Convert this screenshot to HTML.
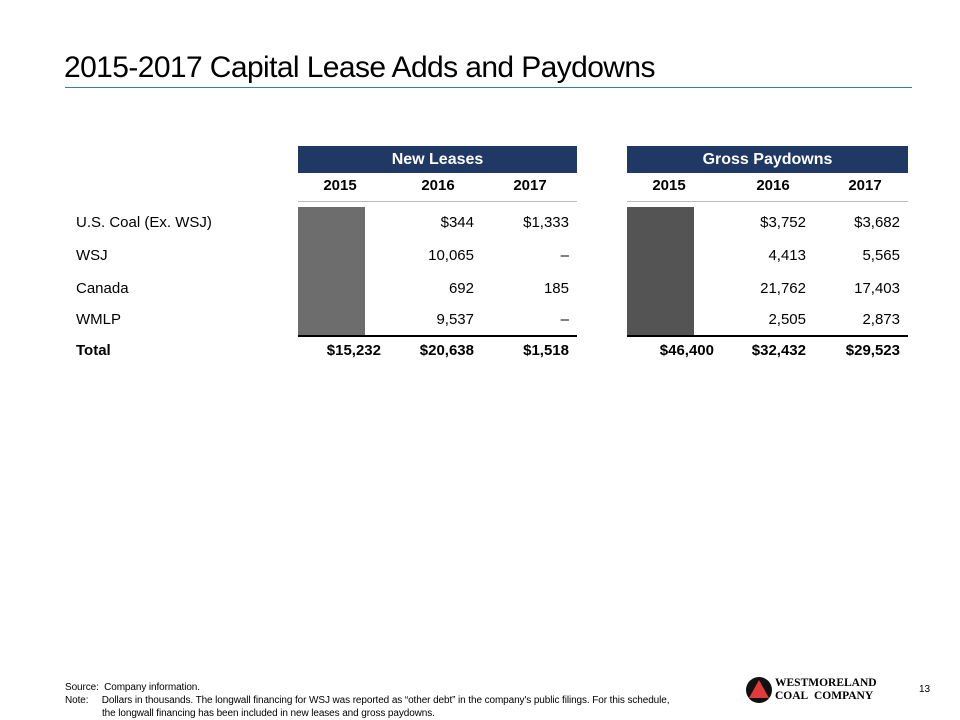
<!DOCTYPE html>
<html><head><meta charset="utf-8"><style>
body{margin:0;width:960px;height:720px;background:#fff;position:relative;font-family:"Liberation Sans",sans-serif;color:#000;overflow:hidden}
.a{position:absolute;white-space:nowrap}
.hdr{position:absolute;background:#203864;color:#fff;font-weight:bold;font-size:16px;text-align:center;line-height:27px;height:27px}
.yr{font-weight:bold;font-size:15px}
.v{font-size:15px}
.b{font-weight:bold}
</style></head><body>
<div class="a" style="left:64px;top:51px;font-size:30px;letter-spacing:-0.6px">2015-2017 Capital Lease Adds and Paydowns</div>
<div class="a" style="left:65px;top:87px;width:847px;height:1px;background:#3f76b8"></div>

<div class="hdr" style="left:298px;top:146px;width:279px">New Leases</div>
<div class="hdr" style="left:627px;top:146px;width:281px">Gross Paydowns</div>

<div class="a" style="left:298px;top:201px;width:279px;height:1px;background:#bbb"></div>
<div class="a" style="left:627px;top:201px;width:281px;height:1px;background:#bbb"></div>
<div class="a" style="left:298px;top:207px;width:67px;height:128px;background:#6d6d6d"></div>
<div class="a" style="left:627px;top:207px;width:67px;height:128px;background:#545454"></div>
<div class="a" style="left:298px;top:335px;width:279px;height:2px;background:#000"></div>
<div class="a" style="left:627px;top:335px;width:281px;height:2px;background:#000"></div>

<div id="tbl"></div>

<div class="a" style="left:65px;top:681px;font-size:10px;line-height:13px;letter-spacing:-0.1px">Source:&nbsp; Company information.<br>Note:&nbsp;&nbsp;&nbsp;&nbsp; Dollars in thousands. The longwall financing for WSJ was reported as “other debt” in the company's public filings. For this schedule,<br><span style="padding-left:37px">the longwall financing has been included in new leases and gross paydowns.</span></div>

<svg class="a" style="left:745px;top:676px" width="28" height="28" viewBox="0 0 28 28"><circle cx="14" cy="14" r="13" fill="#111"/><polygon points="14,4 24,22 4,22" fill="#e03a3a"/></svg>
<div class="a" style="left:775px;top:677px;font-family:'Liberation Serif',serif;font-weight:bold;font-size:11.5px;line-height:13px">WESTMORELAND<br>COAL&nbsp; COMPANY</div>
<div class="a" style="left:919px;top:684px;font-size:10px">13</div>

<script>
const rowLabels=["U.S. Coal (Ex. WSJ)","WSJ","Canada","WMLP","Total"];
const years=["2015","2016","2017"];
const newLeases=[["","$344","$1,333"],["","10,065","–"],["","692","185"],["","9,537","–"],["$15,232","$20,638","$1,518"]];
const paydowns=[["","$3,752","$3,682"],["","4,413","5,565"],["","21,762","17,403"],["","2,505","2,873"],["$46,400","$32,432","$29,523"]];
const t=document.getElementById('tbl');
const rowY=[214,247,280,311,342];
const leftR=[381,474,569],rightR=[714,806,900];
const leftC=[340,438,530],rightC=[669,773,865];
function add(txt,x,y,cls,name,align){const d=document.createElement('div');


d.className='a '+cls;d.textContent=txt;
if(align==='r'){d.style.right=(960-x)+'px';}else{d.style.left=(x-40)+'px';d.style.width='80px';d.style.textAlign='center';}
d.style.top=y+'px';t.appendChild(d);}
years.forEach((y,i)=>{add(y,leftC[i],177,'yr','new-leases-year-'+y,'c');add(y,rightC[i],177,'yr','paydowns-year-'+y,'c');});
rowLabels.forEach((l,r)=>{const d=document.createElement('div');


d.className='a v'+(r===4?' b':'');d.textContent=l;d.style.left='76px';d.style.top=rowY[r]+'px';t.appendChild(d);
for(let i=0;i<3;i++){if(newLeases[r][i])add(newLeases[r][i],leftR[i],rowY[r],'v'+(r===4?' b':''),'new-leases-cell','r');
if(paydowns[r][i])add(paydowns[r][i],rightR[i],rowY[r],'v'+(r===4?' b':''),'paydowns-cell','r');}});
</script>
</body></html>
